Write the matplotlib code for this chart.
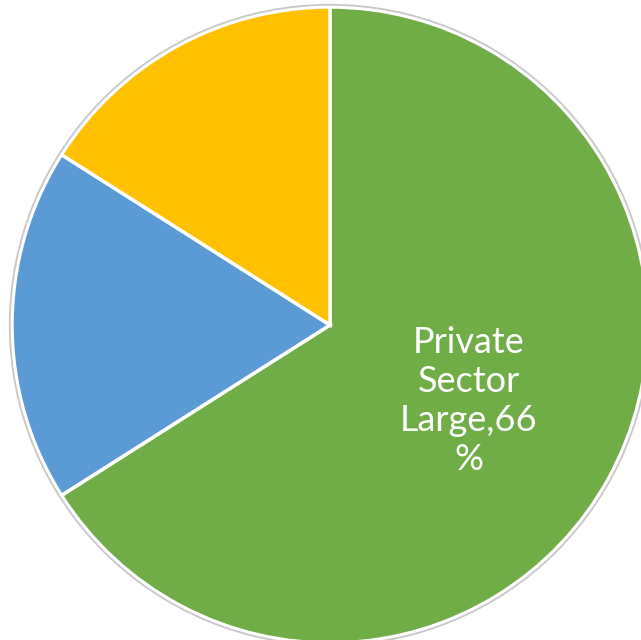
import matplotlib
matplotlib.use("Agg")
import matplotlib.pyplot as plt
from matplotlib.patches import Circle

categories = ["Private Sector Large", "Segment B", "Segment C"]
values = [66, 18, 16]
colors = ["#70AD47", "#5B9BD5", "#FFC000"]
labels = ["Private\nSector\nLarge,66\n%", "", ""]

fig = plt.figure(figsize=(6.41, 6.40), dpi=100)
ax = fig.add_axes([0, 0, 1, 1])
ax.axis("off")

wedges, texts = ax.pie(values, colors=colors, labels=labels, startangle=90,
                       counterclock=False, labeldistance=0.497,
                       wedgeprops=dict(edgecolor="white", linewidth=2.5),
                       textprops=dict(color="white", fontsize=26, family="Lato"))
for t in texts:
    t.set_ha("center")
    t.set_va("center")
    t.set_linespacing(1.22)

ax.add_patch(Circle((0, 0), 1.007, fill=False, edgecolor="#C8C8C8", linewidth=1.3, zorder=5))

ax.set_xlim(-330 / 318, 311 / 318)
ax.set_ylim(-315 / 318, 325 / 318)
ax.set_aspect("auto")
fig.savefig("out.png", dpi=100)
